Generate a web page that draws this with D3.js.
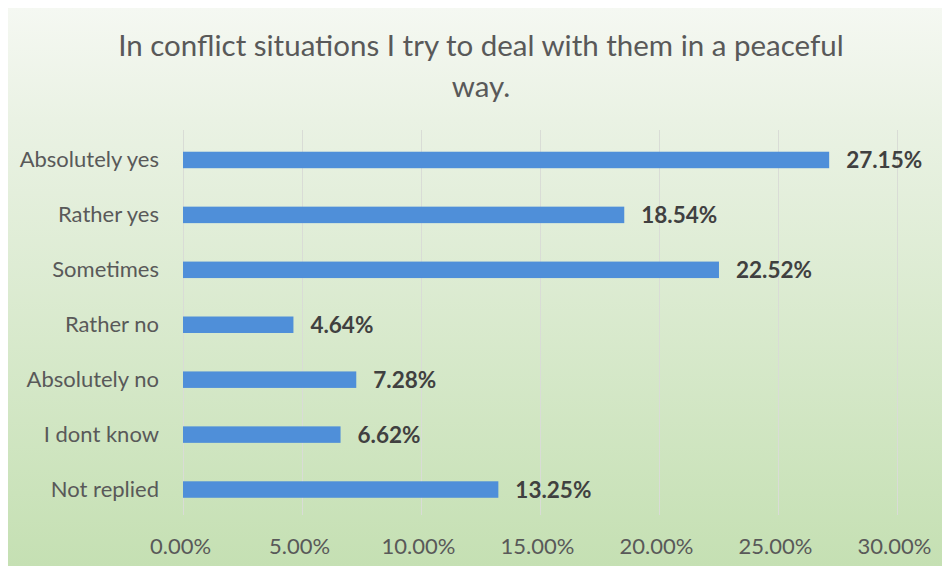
<!DOCTYPE html>
<html><head><meta charset="utf-8">
<script src="https://cdn.jsdelivr.net/npm/d3@7"></script>
<style>html,body{margin:0;padding:0;background:#fff;}svg{display:block;}</style>
</head><body>
<svg id="chart" width="943" height="566"></svg>
<script>
const categories = ["Absolutely yes","Rather yes","Sometimes","Rather no","Absolutely no","I dont know","Not replied"];
const values = [27.15, 18.54, 22.52, 4.64, 7.28, 6.62, 13.25];
const tickValues = [0,5,10,15,20,25,30];
const titleLines = ["In conflict situations I try to deal with them in a peaceful","way."];

const svg = d3.select("#chart");
const W = 943, H = 566;
const defs = svg.append("defs");
const grad = defs.append("linearGradient").attr("id","bg").attr("x1",0).attr("y1",0).attr("x2",0).attr("y2",1);
grad.append("stop").attr("offset","0%").attr("stop-color","#f5f8f2");
grad.append("stop").attr("offset","20%").attr("stop-color","#eaf2e4");
grad.append("stop").attr("offset","100%").attr("stop-color","#c5e0b3");
svg.append("rect").attr("x",8).attr("y",8).attr("width",W-9).attr("height",H-8).attr("fill","url(#bg)");

const font = "Lato, 'Open Sans', sans-serif";
const x = d3.scaleLinear().domain([0,30]).range([183,897]);
const y = d3.scaleBand().domain(categories).range([132.5,517]).paddingInner(0.7).paddingOuter(0.35);

// gridlines
const grid = svg.append("g").attr("transform","translate(0,130)")
  .call(d3.axisBottom(x).tickValues(tickValues).tickSize(385).tickFormat(""));
grid.select(".domain").remove();
grid.selectAll("line").attr("stroke","#d9dcd6").attr("stroke-width",1).attr("shape-rendering","crispEdges");

// bars
svg.append("g").selectAll("rect").data(values).join("rect")
  .attr("x", x(0))
  .attr("y", (d,i)=>y(categories[i]))
  .attr("width", d=>x(d)-x(0))
  .attr("height", y.bandwidth())
  .attr("fill","#4f8fd9");

// value labels
svg.append("g").selectAll("text").data(values).join("text")
  .attr("x", d=>x(d)+17)
  .attr("y", (d,i)=>y(categories[i])+y.bandwidth()/2)
  .attr("dy","0.36em")
  .attr("font-family",font).attr("font-weight","bold").attr("font-size",22.5)
  .attr("fill","#404040")
  .text(d=>d.toFixed(2)+"%");

// category axis
const yAxis = svg.append("g").attr("transform","translate(159,0)")
  .call(d3.axisLeft(y).tickSize(0).tickPadding(0));
yAxis.select(".domain").remove();
yAxis.selectAll("text").attr("font-family",font).attr("font-size",22).attr("fill","#595959");

// x axis labels
const xAxis = svg.append("g").attr("transform","translate(-3,538)")
  .call(d3.axisBottom(x).tickValues(tickValues).tickSize(0).tickPadding(0).tickFormat(d=>d.toFixed(2)+"%"));
xAxis.select(".domain").remove();
xAxis.selectAll("text").attr("font-family",font).attr("font-size",22).attr("fill","#595959");

// title
svg.append("g").selectAll("text").data(titleLines).join("text")
  .attr("x", 481).attr("y",(d,i)=>56+i*41)
  .attr("text-anchor","middle")
  .attr("font-family",font).attr("font-size",29.5).attr("fill","#595959")
  .text(d=>d);
</script>
</body></html>
